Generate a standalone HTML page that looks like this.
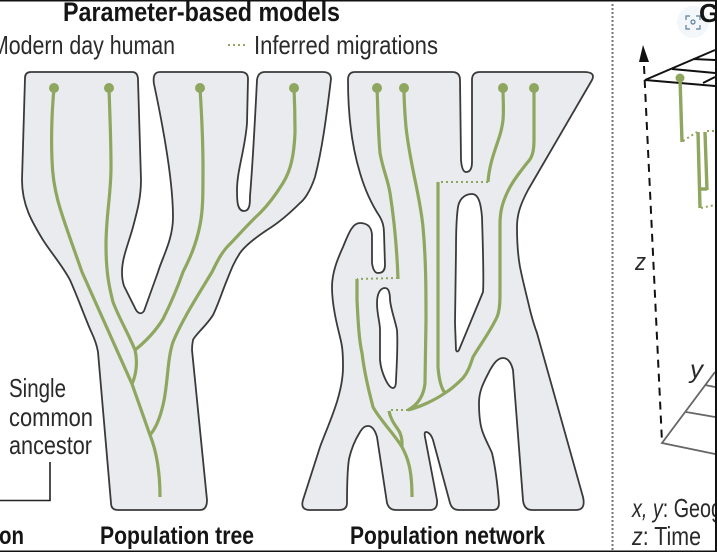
<!DOCTYPE html>
<html><head><meta charset="utf-8"><style>
html,body{margin:0;padding:0;background:#fff;width:717px;height:552px;overflow:hidden}
svg{display:block;filter:blur(0.35px)}
text{font-family:"Liberation Sans",sans-serif;fill:#2a2a2a}
.b{font-weight:bold;fill:#151515}
.s{fill:#e9ebee;stroke:#3a3a3a;stroke-width:1.8;stroke-linejoin:round}
.g{fill:none;stroke:#8fa65f;stroke-width:3.2;stroke-linecap:butt}
.d{fill:none;stroke:#8fa65f;stroke-width:2;stroke-dasharray:2 3}
.k{fill:none;stroke:#111;stroke-width:2}
</style></head><body>
<svg width="717" height="552" viewBox="0 0 717 552" xmlns="http://www.w3.org/2000/svg">
<rect width="717" height="552" fill="#fff"/>
<path class="s" d="M25 78Q25 72 31 72L132 72Q138 72 138 80L141 180C141 198 137 212 133 227C128 245 122 258 122 272C122 280 123 283 124 286L136 310Q140 316 144 311L158 272C162 258 173 240 173 217C173 190 168 150 154 84Q152 72 160 72L241 72Q248 72 248 79L247 123C245 150 237 170 237 190C237 200 237 211 244 211C250 211 250 203 250 196C253 160 255 120 257 80Q258 72 265 72L323 72Q331 72 331 79C326 120 322 150 315 177C310 192 304 200 300 203C290 213 280 222 267 230C255 238 245 246 240 253C234 262 231 270 227 280C222 292 218 305 213 315C207 325 195 335 193 340Q192 345 192 350L207 500Q207 510 200 510L118 510Q111 510 111 503L98 352C96 340 92 334 90 329C82 310 78 298 70 280C62 265 52 254 43 240C32 222 22 205 22 180L25 78Z"/>
<path class="s" d="M348 80Q348 72 355 72L452 72Q460 72 460 80L461 160Q462 172 466 172Q472 172 472 162L472 80Q472 72 480 72L584 72Q596 72 592 80L528 190C520 205 517 215 517 227C517 245 518 256 520 267C523 282 527 297 530 310C532 318 534 325 537 333L583 497Q586 510 576 510L532 510Q524 510 523 500L513 370C511 362 508 358 503 358C497 358 493 365 490 370C484 382 479 390 479 403C479 420 481 428 483 433C486 441 489 446 492 453C496 470 498 490 499 503Q499 510 493 510L459 510Q452 510 450 503L433 440C431 434 428 432 426 432Q424 432 425 437L437 500Q438 510 430 510L396 510Q389 510 387 503L377 437C375 430 372 426 368 426C364 426 362 429 360 432C355 440 351 450 349 459C347 472 347 490 347 503Q347 510 339 510L310 510Q300 510 303 500L320 447C328 425 343 395 343 367C343 350 342 345 340 337C337 325 332 305 332 287C332 272 338 258 343 247C348 235 352 223 360 223C368 223 372 228 372 236L372 263C373 270 375 273 378 273C383 273 385 270 385 265L384 233C384 225 382 221 380 217C372 205 365 190 360 173C353 150 348 120 348 80Z"/>
<path fill="#fff" stroke="#3a3a3a" stroke-width="1.8" d="M385 288C380 288 377 294 377 303C377 315 380 322 380 330L380 360C381 372 388 388 393 388Q396 388 396 380C397 360 398 345 397 330C395 320 391 310 390 300Q390 288 385 288Z"/>
<path fill="#fff" stroke="#3a3a3a" stroke-width="1.8" d="M472 194C463 194 459 201 458 207C456 220 456 235 456 250L455 323L456 350Q457 353 459 350L483 292C484 280 483 250 482 217C481 205 479 194 472 194Z"/>

<g class="g">
<path d="M54 88C52 110 51 135 52 160C53 195 62 215 82 272L132 384L150 435C156 450 160 470 160 497"/>
<path d="M109 88C110 120 111 140 111 167C111 195 106 215 106 245C106 275 110 290 113 302C119 318 129 335 135 350C138 362 136 375 132 384"/>
<path d="M200 88C202 120 203 140 203 167C203 195 203 210 200 225C196 245 190 258 183 272C176 292 170 305 163 319C155 332 145 342 135 350"/>
<path d="M294 88C295 110 295 120 295 133C294 155 291 170 283 183C275 196 268 205 260 213C248 224 238 236 227 247C220 255 216 264 212 272C200 292 183 318 173 342C167 360 168 385 163 405C160 418 156 428 150 435"/>
<path d="M377 88C378 110 378 130 380 153C383 170 388 180 390 193C395 225 397 250 398 279"/>
<path d="M357 279L357 300C358 320 359 340 362 353C365 378 370 395 373 407C380 420 395 435 402 447C408 458 412 470 412 497"/>
<path d="M404 88C404 105 405 115 406 127C410 165 420 195 423 227C426 260 426 290 426 320L425 383C424 395 418 405 408 410"/>
<path d="M389 411C391 422 398 428 400 433C402 438 402 441 402 446"/>
<path d="M438 182L438 367C439 380 441 388 445 393"/>
<path d="M503 88C503 100 504 110 503 120C501 140 490 155 488 182"/>
<path d="M534 88L534 140C534 152 532 158 527 163C520 172 512 182 507 193C502 204 500 212 500 225L500 290C500 300 500 310 497 317C490 332 480 345 473 357C470 366 468 372 463 378C455 386 450 390 445 393C435 400 420 407 408 410"/>
</g>
<g fill="#8fa65f">
<circle cx="54" cy="88" r="5"/><circle cx="109" cy="88" r="5"/><circle cx="200" cy="88" r="5"/><circle cx="294" cy="88" r="5"/>
<circle cx="377" cy="88" r="5"/><circle cx="404" cy="88" r="5"/><circle cx="503" cy="88" r="5"/><circle cx="534" cy="88" r="5"/>
</g>
<path class="d" d="M398 278L357 279M488 182L438 182M408 410L388 410M228 45L247 45"/>

<text class="b" x="63" y="21" font-size="27" textLength="277" lengthAdjust="spacingAndGlyphs">Parameter-based models</text>
<text x="-9" y="54" font-size="26" textLength="184" lengthAdjust="spacingAndGlyphs">Modern day human</text>
<text x="254" y="54" font-size="26" textLength="184" lengthAdjust="spacingAndGlyphs">Inferred migrations</text>
<text x="9" y="397" font-size="26" textLength="57" lengthAdjust="spacingAndGlyphs">Single</text>
<text x="9" y="426" font-size="26" textLength="84" lengthAdjust="spacingAndGlyphs">common</text>
<text x="9" y="454" font-size="26" textLength="83" lengthAdjust="spacingAndGlyphs">ancestor</text>
<path fill="none" stroke="#222" stroke-width="1.6" d="M50 462V500.5H0"/>
<text class="b" x="-1" y="544" font-size="25" textLength="25" lengthAdjust="spacingAndGlyphs">on</text>
<text class="b" x="100" y="544" font-size="25" textLength="154" lengthAdjust="spacingAndGlyphs">Population tree</text>
<text class="b" x="350" y="544" font-size="25" textLength="195" lengthAdjust="spacingAndGlyphs">Population network</text>

<path fill="none" stroke="#777" stroke-width="2" stroke-dasharray="2 2" d="M612.5 4V552"/>

<path d="M643 45L639 62H649Z" fill="#111"/>
<path fill="none" stroke="#111" stroke-width="2" stroke-dasharray="8 6" d="M644 66L662 442"/>
<path class="k" d="M715 50L645 80L715 86M672 69L715 73M693 59L715 60M703 83L715 77"/>
<path fill="none" stroke="#8fa65f" stroke-width="3.4" d="M680 78L682 142M698 132L700 208M705 132L707 190M698 189H707"/>
<circle cx="680" cy="78" r="4.5" fill="#8fa65f"/>
<path class="d" d="M683 141L697 132M707 131H715M701 208L715 205"/>
<path fill="none" stroke="#666" stroke-width="1.8" d="M715 372L662 443L715 454M686 412L715 417M705 385L715 387"/>
<text x="635" y="270" font-size="24" font-style="italic" textLength="11" lengthAdjust="spacingAndGlyphs">z</text>
<text x="690" y="378" font-size="25" font-style="italic" textLength="13" lengthAdjust="spacingAndGlyphs">y</text>
<text x="632" y="517" font-size="26" textLength="90" lengthAdjust="spacingAndGlyphs"><tspan font-style="italic">x, y</tspan>: Geog</text>
<text x="632" y="545" font-size="26" textLength="69" lengthAdjust="spacingAndGlyphs"><tspan font-style="italic">z</tspan>: Time</text>

<circle cx="693" cy="22" r="16" fill="#f3f7fa"/>
<path fill="none" stroke="#5b7f9c" stroke-width="1.2" d="M686 20V16H690M696 16H700V20M700 25V29H696M690 29H686V25"/>
<circle cx="693" cy="22" r="2" fill="none" stroke="#5b7f9c" stroke-width="1.2"/>
<text class="b" x="699" y="22" font-size="26">G</text>

<rect x="0" y="0" width="717" height="1.5" fill="#111"/>
<rect x="0" y="550.5" width="717" height="1.5" fill="#111"/>
<rect x="715" y="0" width="2" height="552" fill="#111"/>
</svg>
</body></html>
